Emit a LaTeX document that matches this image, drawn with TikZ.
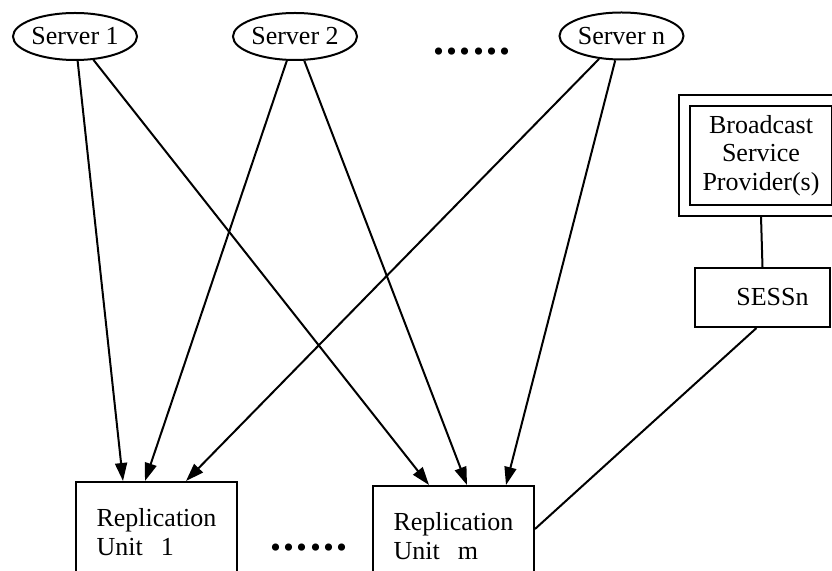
\documentclass[tikz,border=0pt]{standalone}
\usepackage{fontspec}
\setmainfont{Liberation Serif}
\usetikzlibrary{shapes.geometric,arrows.meta}

\newcommand{\pointilles}{.\kern1.2pt.\kern1.2pt.\kern1.2pt.\kern1.2pt.\kern1.2pt.}

\begin{document}
\begin{tikzpicture}[x=0.5pt,y=-0.5pt,
  font=\fontsize{13}{14.2}\selectfont,
  serveur/.style={draw,ellipse,line width=1pt,minimum width=62pt,minimum height=23.5pt,inner sep=0pt},
  boite/.style={draw,rectangle,line width=1pt,inner sep=0pt},
  points/.style={font=\bfseries\fontsize{22}{22}\selectfont,inner sep=0pt},
  fleche/.style={line width=1pt,-{Triangle[length=9pt,width=6pt]}},
  lien/.style={line width=1pt}]

\useasboundingbox (0,0) rectangle (832,571);
\clip (0,0) rectangle (832,571);

% Serveurs
\node[serveur] (s1) at (75,36.5) {Server 1};
\node[serveur] (s2) at (295,36.5) {Server 2};
\node[serveur] (sn) at (621.5,36) {Server n};
\node[points] (pts1) at (472,52) {\pointilles};

% Unites de replication
\node[boite,minimum width=80.5pt,minimum height=50pt,align=left,anchor=north west] (ru1) at (75,481) {Replication\\Unit\hspace{0.7em}1};
\node[boite,minimum width=80.5pt,minimum height=50pt,align=left,anchor=north west] (rum) at (372,485) {Replication\\Unit\hspace{0.7em}m};
\node[points] (pts2) at (309,548) {\pointilles};

% Fournisseur de service
\node[boite,minimum width=71pt,minimum height=49.5pt,align=center] (bsp) at (761,155.5) {Broadcast\\Service\\Provider(s)};
\draw[lien] ([shift={(-5pt,5pt)}]bsp.north west) rectangle ([shift={(5pt,-5pt)}]bsp.south east);
\node[boite,minimum width=67.5pt,minimum height=29.5pt] (sess) at (762.5,297.5) {\hspace{10pt}SESSn};

% Liaisons
\draw[lien] ([yshift=-5pt]bsp.south) -- (sess.north);
\draw[lien] ([xshift=-3pt]sess.south) -- ([yshift=3.5pt]rum.east);

% Fleches serveurs -> unites
\draw[fleche] (s1) -- ([xshift=24pt]ru1.north west);
\draw[fleche] (s1) -- ([xshift=28.5pt]rum.north west);
\draw[fleche] (s2) -- ([xshift=35pt]ru1.north west);
\draw[fleche] (s2) -- ([xshift=47.5pt]rum.north west);
\draw[fleche] (sn) -- ([xshift=55.5pt]ru1.north west);
\draw[fleche] (sn) -- ([xshift=67pt]rum.north west);

\end{tikzpicture}
\end{document}
